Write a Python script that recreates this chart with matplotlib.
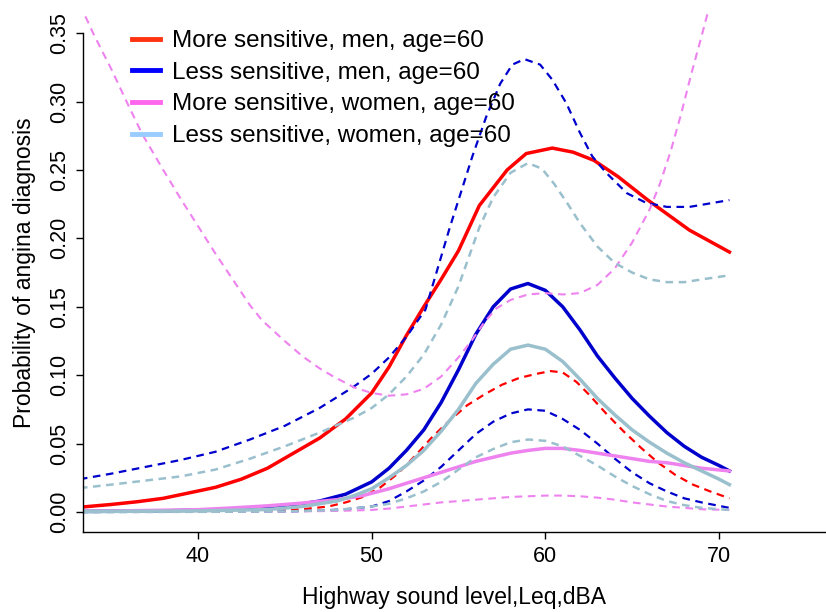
import matplotlib
matplotlib.use('Agg')
import matplotlib.pyplot as plt
from matplotlib.lines import Line2D

plt.rcParams['font.family'] = ['Liberation Sans', 'DejaVu Sans']
plt.rcParams['lines.scale_dashes'] = False

# More sensitive, men (fit + lower bound)
red_x = [33.2, 35, 36.5, 38, 39.5, 41, 42.5, 44, 45.5, 47, 48.5, 50, 51, 52, 53, 54, 55, 56.2,
         57.8, 58.9, 60.4, 61.6, 62.8, 64.2, 65.9, 68.3, 70.6]
red_y = [0.0035, 0.0055, 0.0075, 0.010, 0.014, 0.018, 0.024, 0.032, 0.043, 0.054, 0.068, 0.087,
         0.106, 0.129, 0.150, 0.170, 0.191, 0.224, 0.250, 0.262, 0.266, 0.263, 0.257, 0.245,
         0.228, 0.206, 0.190]
red_lo_x = [33.2, 40, 44, 46, 47.5, 48.5, 49.5, 50.5, 51.5, 52.5, 53.5, 54.5, 55.5, 56.5, 57.5,
            58.5, 59.5, 60.3, 61, 61.8, 62.5, 63.5, 64.5, 65.5, 66.5, 67.5, 68.5, 69.5, 70.6]
red_lo_y = [0.0001, 0.0003, 0.001, 0.002, 0.004, 0.007, 0.011, 0.018, 0.028, 0.041, 0.055, 0.067,
            0.078, 0.086, 0.093, 0.098, 0.101, 0.103, 0.102, 0.095, 0.086, 0.072, 0.059, 0.047,
            0.036, 0.027, 0.020, 0.015, 0.010]

# Less sensitive, men (fit + bounds)
blue_x = [33.2, 38, 42, 45, 47, 48.5, 50, 51, 52, 53, 54, 55, 56, 57, 58, 59, 60, 61, 62, 63,
          64, 65, 66, 67, 68, 69, 70, 70.6]
blue_y = [0.0004, 0.0008, 0.002, 0.004, 0.008, 0.013, 0.022, 0.032, 0.045, 0.060, 0.080, 0.104,
          0.130, 0.150, 0.163, 0.167, 0.162, 0.150, 0.133, 0.114, 0.098, 0.083, 0.070, 0.058,
          0.048, 0.040, 0.034, 0.030]
blue_hi_x = [33.2, 35, 37, 39, 41, 43, 45, 47, 48.9, 50, 51, 52, 53.1, 54.5, 55.8, 56.6, 57.4,
             58.1, 58.8, 59.7, 60.4, 61.2, 62.0, 62.7, 63.5, 64.7, 65.8, 67.0, 68.3, 70.6]
blue_hi_y = [0.024, 0.028, 0.033, 0.038, 0.044, 0.053, 0.063, 0.076, 0.091, 0.101, 0.113, 0.128,
             0.148, 0.208, 0.260, 0.289, 0.313, 0.327, 0.331, 0.327, 0.316, 0.299, 0.277, 0.260,
             0.248, 0.233, 0.226, 0.223, 0.223, 0.228]
blue_lo_x = [33.2, 40, 45, 47, 48.5, 50, 51, 52, 53, 54, 55, 56, 57, 58, 59, 60, 61, 62, 63, 64,
             65, 66, 67, 68, 69, 70.6]
blue_lo_y = [0.0, 0.0001, 0.0004, 0.001, 0.002, 0.004, 0.008, 0.015, 0.023, 0.033, 0.045, 0.057,
             0.066, 0.072, 0.075, 0.074, 0.068, 0.060, 0.050, 0.039, 0.029, 0.021, 0.015, 0.010,
             0.007, 0.003]

# More sensitive, women (fit + bounds)
pink_x = [33.2, 36, 40, 42, 44, 46, 48, 49.5, 51, 52, 53, 54, 55, 56, 57, 58, 59, 60, 61, 62,
          63, 64, 65, 66, 67, 68, 69, 70.6]
pink_y = [0.0005, 0.0009, 0.0017, 0.003, 0.0045, 0.0065, 0.009, 0.012, 0.017, 0.021, 0.025,
          0.029, 0.033, 0.037, 0.040, 0.043, 0.045, 0.0465, 0.0465, 0.045, 0.043, 0.041, 0.039,
          0.037, 0.036, 0.034, 0.032, 0.030]
pink_hi_x = [33.2, 34, 35, 36, 36.8, 38, 39, 40, 41, 42, 43, 43.7, 44.9, 46, 47, 47.8, 49, 50,
             51, 52, 53, 54, 55, 55.8, 56.5, 57.2, 58, 59, 60, 61, 62, 63, 64, 65, 66, 66.6,
             67.2, 67.8, 68.4, 69, 69.5, 70.6]
pink_hi_y = [0.371, 0.349, 0.324, 0.297, 0.276, 0.250, 0.229, 0.209, 0.189, 0.170, 0.151, 0.140,
             0.126, 0.114, 0.105, 0.099, 0.091, 0.087, 0.085, 0.086, 0.090, 0.099, 0.113, 0.126,
             0.139, 0.149, 0.155, 0.159, 0.160, 0.159, 0.160, 0.166, 0.178, 0.197, 0.221, 0.240,
             0.263, 0.290, 0.320, 0.348, 0.372, 0.430]
pink_lo_x = [33.2, 40, 45, 48, 50, 51, 52, 53, 54, 55, 56, 57, 58, 59, 60, 61, 62, 63, 64, 65,
             66, 67, 68, 69, 70.6]
pink_lo_y = [0.0, 0.0001, 0.0003, 0.0008, 0.0015, 0.0025, 0.004, 0.0055, 0.007, 0.008, 0.009,
             0.010, 0.011, 0.0115, 0.012, 0.012, 0.0115, 0.0105, 0.009, 0.007, 0.0055, 0.004,
             0.003, 0.002, 0.0015]

# Less sensitive, women (fit + bounds)
lblue_x = [33.2, 40, 44, 46, 48, 49, 50, 51, 52, 53, 54, 55, 56, 57, 58, 59, 60, 61, 62, 63, 64,
           65, 66, 67, 68, 69, 70, 70.6]
lblue_y = [0.0003, 0.0008, 0.0018, 0.004, 0.008, 0.012, 0.017, 0.025, 0.034, 0.045, 0.059, 0.075,
           0.094, 0.108, 0.119, 0.122, 0.119, 0.110, 0.097, 0.083, 0.071, 0.060, 0.051, 0.043,
           0.036, 0.030, 0.024, 0.020]
lblue_hi_x = [33.2, 35, 37, 39, 41, 43, 45, 47, 49, 50, 51, 52, 53, 54, 55, 56.2, 57, 58, 59,
              59.8, 60.5, 61.3, 62, 63, 64, 65, 66, 67, 68, 69, 70.6]
lblue_hi_y = [0.0175, 0.020, 0.023, 0.026, 0.031, 0.039, 0.048, 0.058, 0.069, 0.076, 0.086, 0.099,
              0.115, 0.137, 0.165, 0.208, 0.230, 0.248, 0.255, 0.251, 0.240, 0.225, 0.211, 0.194,
              0.182, 0.175, 0.170, 0.168, 0.168, 0.170, 0.173]
lblue_lo_x = [33.2, 40, 45, 48, 50, 51, 52, 53, 54, 55, 56, 57, 58, 59, 60, 61, 62, 63, 64, 65,
              66, 67, 68, 69, 70.6]
lblue_lo_y = [0.0, 0.0001, 0.0004, 0.0015, 0.004, 0.006, 0.010, 0.015, 0.022, 0.031, 0.040,
              0.046, 0.051, 0.053, 0.052, 0.048, 0.041, 0.034, 0.026, 0.019, 0.013, 0.008, 0.005,
              0.003, 0.0015]

labels = ['More sensitive, men, age=60', 'Less sensitive, men, age=60',
          'More sensitive, women, age=60', 'Less sensitive, women, age=60']
legend_colors = ['#FF3311', '#0000FF', '#FF66EE', '#99CCFF']

RED = '#FF0000'
BLUE = '#0000CD'
PINK = '#EE82EE'
LBLUE = '#9AC0CD'
DASH = (5.5, 4.0)

fig = plt.figure(figsize=(8.26, 6.12), dpi=100)
ax = fig.add_axes([83 / 826, 80 / 612, 743 / 826, 518 / 612])

ax.plot(red_x, red_y, color=RED, lw=2.5)
ax.plot(red_lo_x, red_lo_y, color=RED, lw=1.6, dashes=DASH)

ax.plot(blue_x, blue_y, color=BLUE, lw=2.5)
ax.plot(blue_hi_x, blue_hi_y, color=BLUE, lw=1.6, dashes=DASH)
ax.plot(blue_lo_x, blue_lo_y, color=BLUE, lw=1.6, dashes=DASH)

ax.plot(pink_x, pink_y, color=PINK, lw=2.5)
ax.plot(pink_hi_x, pink_hi_y, color=PINK, lw=1.5, dashes=DASH)
ax.plot(pink_lo_x, pink_lo_y, color=PINK, lw=1.5, dashes=DASH)

ax.plot(lblue_x, lblue_y, color=LBLUE, lw=2.5)
ax.plot(lblue_hi_x, lblue_hi_y, color=LBLUE, lw=1.8, dashes=DASH)
ax.plot(lblue_lo_x, lblue_lo_y, color=LBLUE, lw=1.8, dashes=DASH)

ax.set_xlim(33.38, 76.16)
ax.set_ylim(-0.01462, 0.3640)

ax.spines['top'].set_visible(False)
ax.spines['right'].set_visible(False)
ax.spines['left'].set_bounds(-0.01462, 0.35)
ax.spines['left'].set_linewidth(1.0)
ax.spines['bottom'].set_linewidth(1.0)

ax.set_xticks([40, 50, 60, 70])
ax.set_yticks([0.0, 0.05, 0.10, 0.15, 0.20, 0.25, 0.30, 0.35])
ax.set_yticklabels(['0.00', '0.05', '0.10', '0.15', '0.20', '0.25', '0.30', '0.35'],
                   rotation=90, va='center')
ax.tick_params(axis='both', direction='out', length=5, width=1.0, labelsize=15.5)
ax.tick_params(axis='x', pad=5)
ax.tick_params(axis='y', pad=4)

ax.set_xlabel('Highway sound level,Leq,dBA', fontsize=16.5, labelpad=14)
ax.set_ylabel('Probability of angina diagnosis', fontsize=16.5, labelpad=10)

handles = [Line2D([0], [0], color=c, lw=3.5) for c in legend_colors]
leg = ax.legend(handles, labels, loc='upper left', bbox_to_anchor=(132 / 826, 1 - 30 / 612),
                bbox_transform=fig.transFigure, frameon=False, fontsize=17.5,
                handlelength=1.15, handletextpad=0.5, labelspacing=0.4,
                borderpad=0.0, borderaxespad=0.0)

fig.savefig('out.png', dpi=100)
